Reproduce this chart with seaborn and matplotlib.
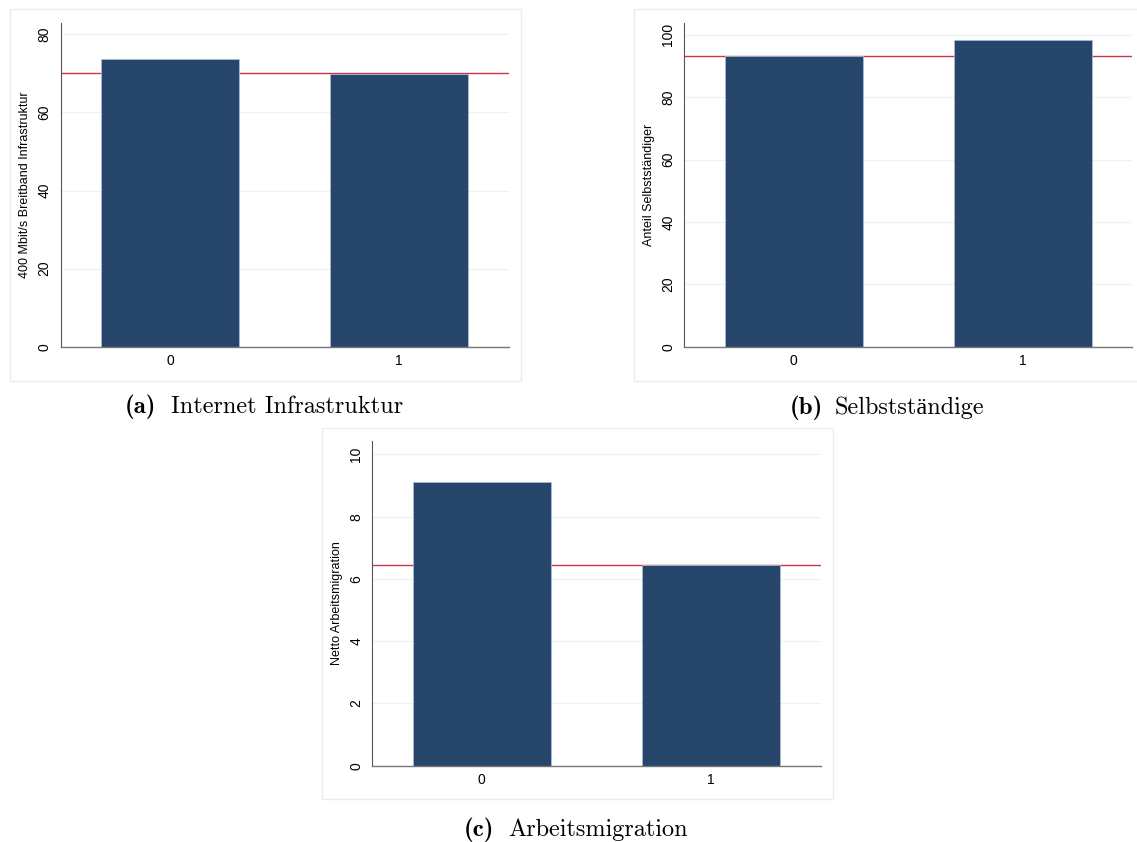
import matplotlib
matplotlib.use("Agg")
import matplotlib.pyplot as plt
import seaborn as sns
from matplotlib.patches import Rectangle

# values
groups = ["0", "1"]
internet_vals = [73.6, 69.8]
internet_mean = 70.0
selbst_vals = [93.3, 98.4]
selbst_mean = 93.2
migration_vals = [9.10, 6.44]
migration_mean = 6.45

ylabels = ["400 Mbit/s Breitband Infrastruktur", "Anteil Selbstständiger", "Netto Arbeitsmigration"]
yticks = [[0, 20, 40, 60, 80], [0, 20, 40, 60, 80, 100], [0, 2, 4, 6, 8, 10]]
ytops = [83.0, 103.9, 10.43]
letters = ["(a)", "(b)", "(c)"]
captions = ["Internet Infrastruktur", "Selbstständige", "Arbeitsmigration"]

sns.set_style("white")
plt.rcParams["font.family"] = ["Liberation Sans", "DejaVu Sans"]
plt.rcParams["text.color"] = "black"
plt.rcParams["axes.labelcolor"] = "black"
plt.rcParams["xtick.color"] = "black"
plt.rcParams["ytick.color"] = "black"

W, H = 1137, 842
fig = plt.figure(figsize=(W / 100, H / 100), dpi=100)

bar_color = "#26476b"
red = "#c8354a"
grid_color = "#eaf1f3"
frame_color = "#e6eef0"

# axes boxes in pixels: left, top, right, bottom
boxes = [(60.5, 22.7, 508.7, 346.7), (684.3, 22.7, 1132.5, 346.7), (372.3, 441.0, 820.5, 765.7)]
frames = [(10.3, 9.3, 521.3, 381.0), (634.0, 9.3, 1145.0, 381.0), (322.3, 428.3, 833.3, 799.0)]
cap_pos = [(124.3, 170.7, 413.0), (790.0, 835.0, 414.0), (464.0, 508.0, 836.0)]

data = [(internet_vals, internet_mean), (selbst_vals, selbst_mean), (migration_vals, migration_mean)]

for i, (vals, mean) in enumerate(data):
    l, t, r, b = boxes[i]
    ax = fig.add_axes([l / W, (H - b) / H, (r - l) / W, (b - t) / H])
    sns.barplot(x=groups, y=vals, color=bar_color, width=0.6, saturation=1,
                edgecolor="#a9bccd", linewidth=0.6, ax=ax)
    ax.axhline(mean, color=red, lw=1.0, zorder=0.8)
    ax.set_xlim(-0.477, 1.477)
    ax.set_ylim(0, ytops[i])
    ax.set_yticks(yticks[i])
    ax.set_yticklabels([str(v) for v in yticks[i]], rotation=90, va="center")
    ax.set_axisbelow(True)
    ax.yaxis.grid(True, color=grid_color, lw=0.9)
    ax.xaxis.grid(False)
    for s in ["top", "right"]:
        ax.spines[s].set_visible(False)
    ax.spines["left"].set_color("#555555")
    ax.spines["bottom"].set_color("#777777")
    ax.spines["left"].set_linewidth(0.8)
    ax.spines["bottom"].set_linewidth(1.0)
    ax.tick_params(axis="y", length=3.5, width=0.7, color="#555555", pad=3, labelsize=10)
    ax.tick_params(axis="x", length=0, pad=5, labelsize=10)
    ax.set_xlabel("")
    ax.set_ylabel(ylabels[i], fontsize=9)
    ax.yaxis.set_label_coords(-0.066, 0.5)

    fl, ft, fr, fb = frames[i]
    fig.patches.append(Rectangle((fl / W, (H - fb) / H), (fr - fl) / W, (fb - ft) / H,
                                 transform=fig.transFigure, fill=False,
                                 edgecolor=frame_color, lw=1.0))

    x1, x2, yb = cap_pos[i]
    fig.text(x1 / W, (H - yb) / H, letters[i], family=["cmb10", "DejaVu Serif"],
             fontsize=18, ha="left", va="baseline")
    fig.text(x2 / W, (H - yb) / H, captions[i], family=["cmr10", "Liberation Serif"],
             fontsize=17.5, ha="left", va="baseline")

fig.savefig("out.png", dpi=100)
